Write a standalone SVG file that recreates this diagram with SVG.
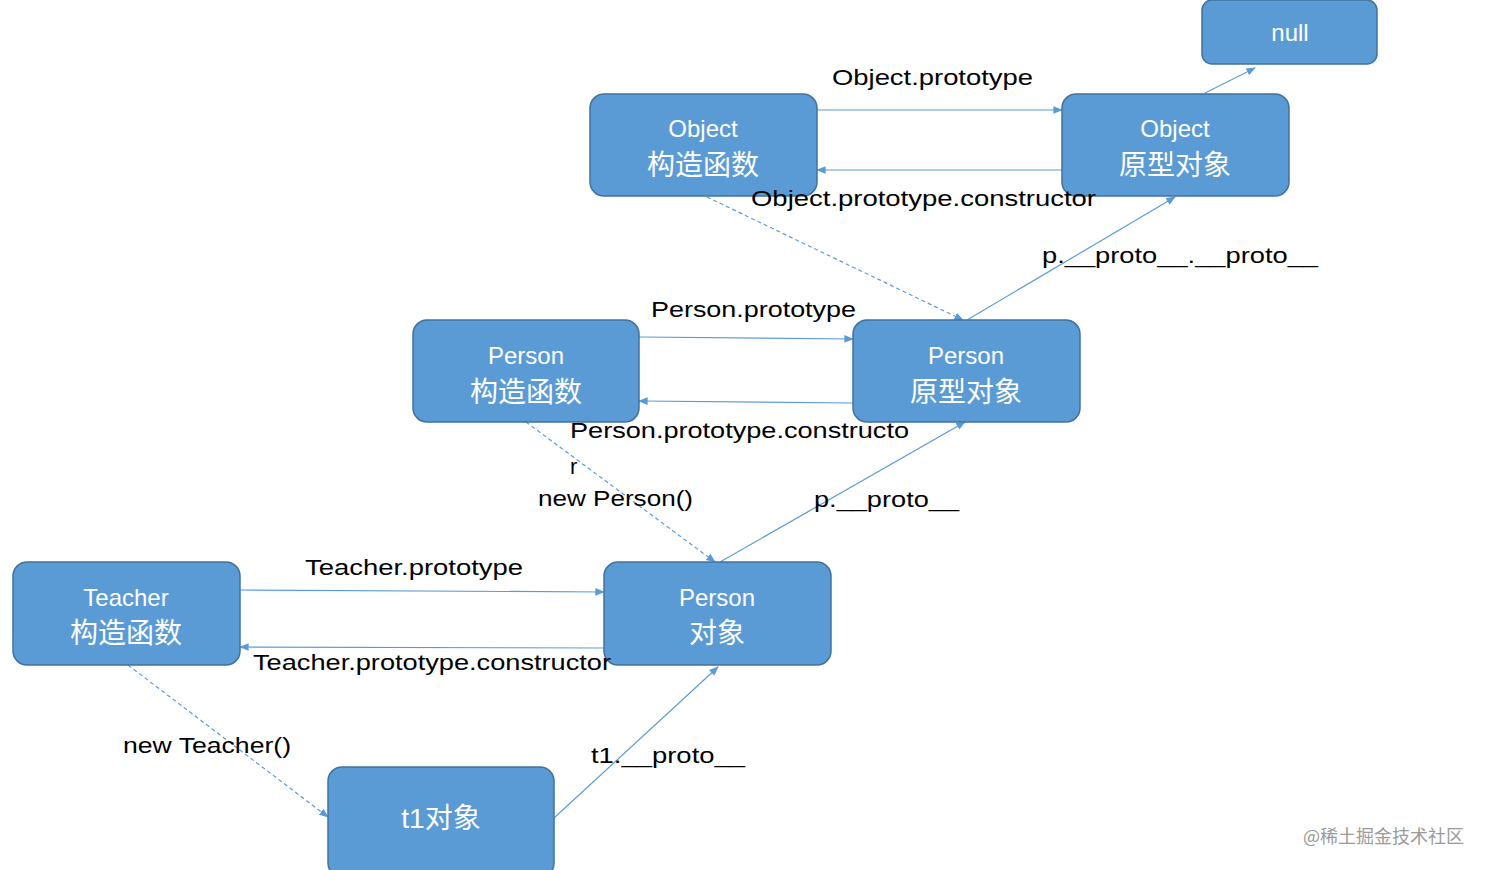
<svg xmlns="http://www.w3.org/2000/svg" width="1487" height="870" viewBox="0 0 1487 870">
<style>
.n rect{fill:#5b9bd5;stroke:#41719c;stroke-width:1.5}
.n text{fill:#fff;font-family:"Liberation Sans","Noto Sans CJK SC",sans-serif;font-size:24px;text-anchor:middle}
.n .z{font-size:28px}
.l{fill:#000;font-family:"Liberation Sans","Noto Sans CJK SC",sans-serif;font-size:22px}
.c line{stroke:#5b9bd5;stroke-width:1.2;marker-end:url(#a)}
.c .d{stroke-dasharray:4 3}
</style>
<defs><marker id="a" viewBox="0 0 10 10" refX="9" refY="5" markerWidth="8" markerHeight="8" orient="auto"><path d="M0,1 L10,5 L0,9 z" fill="#5b9bd5"/></marker></defs>
<rect width="1487" height="870" fill="#fff"/>
<g class="c">
<line x1="817" y1="110" x2="1062" y2="110"/>
<line x1="1062" y1="170" x2="817" y2="170"/>
<line x1="1205" y1="93" x2="1255" y2="68"/>
<line class="d" x1="707" y1="197" x2="963" y2="320"/>
<line x1="967" y1="320" x2="1175" y2="197"/>
<line x1="639" y1="337" x2="853" y2="339"/>
<line x1="853" y1="403" x2="639" y2="401"/>
<line class="d" x1="526" y1="422" x2="715" y2="562"/>
<line x1="720" y1="562" x2="965" y2="422"/>
<line x1="240" y1="590" x2="604" y2="592"/>
<line x1="604" y1="648" x2="240" y2="647"/>
<line class="d" x1="128" y1="665" x2="328" y2="817"/>
<line x1="554" y1="818" x2="718" y2="667"/>
</g>
<g id="null" class="n"><rect x="1202" y="0" width="175" height="64" rx="10"/><text x="1290" y="41">null</text></g>
<g id="objctor" class="n"><rect x="590" y="94" width="227" height="102" rx="14"/><text x="703" y="137">Object</text><text class="z" x="703" y="175">构造函数</text></g>
<g id="objproto" class="n"><rect x="1062" y="94" width="227" height="102" rx="14"/><text x="1175" y="137">Object</text><text class="z" x="1175" y="175">原型对象</text></g>
<g id="pctor" class="n"><rect x="413" y="320" width="226" height="102" rx="14"/><text x="526" y="364">Person</text><text class="z" x="526" y="402">构造函数</text></g>
<g id="pproto" class="n"><rect x="853" y="320" width="227" height="102" rx="14"/><text x="966" y="364">Person</text><text class="z" x="966" y="402">原型对象</text></g>
<g id="pobj" class="n"><rect x="604" y="562" width="227" height="103" rx="14"/><text x="717" y="606">Person</text><text class="z" x="717" y="643">对象</text></g>
<g id="tctor" class="n"><rect x="13" y="562" width="227" height="103" rx="14"/><text x="126" y="606">Teacher</text><text class="z" x="126" y="643">构造函数</text></g>
<g id="t1" class="n"><rect x="328" y="767" width="226" height="110" rx="14"/><text class="z" x="441" y="828">t1对象</text></g>
<g id="labels">
<text class="l" x="832" y="85" textLength="201" lengthAdjust="spacingAndGlyphs">Object.prototype</text>
<text class="l" x="751" y="206" textLength="345" lengthAdjust="spacingAndGlyphs">Object.prototype.constructor</text>
<text class="l" x="1042" y="263" textLength="276" lengthAdjust="spacingAndGlyphs">p.__proto__.__proto__</text>
<text class="l" x="651" y="317" textLength="205" lengthAdjust="spacingAndGlyphs">Person.prototype</text>
<text class="l" x="570" y="438" textLength="339" lengthAdjust="spacingAndGlyphs">Person.prototype.constructo</text>
<text class="l" x="570" y="474">r</text>
<text class="l" x="538" y="506" textLength="155" lengthAdjust="spacingAndGlyphs">new Person()</text>
<text class="l" x="814" y="507" textLength="145" lengthAdjust="spacingAndGlyphs">p.__proto__</text>
<text class="l" x="305" y="575" textLength="218" lengthAdjust="spacingAndGlyphs">Teacher.prototype</text>
<text class="l" x="253" y="670" textLength="358" lengthAdjust="spacingAndGlyphs">Teacher.prototype.constructor</text>
<text class="l" x="123" y="753" textLength="168" lengthAdjust="spacingAndGlyphs">new Teacher()</text>
<text class="l" x="591" y="763" textLength="154" lengthAdjust="spacingAndGlyphs">t1.__proto__</text>
<text x="1303" y="843" fill="#9a9a9a" font-family="'Noto Sans CJK SC',sans-serif" font-size="18">@稀土掘金技术社区</text>
</g>
</svg>
